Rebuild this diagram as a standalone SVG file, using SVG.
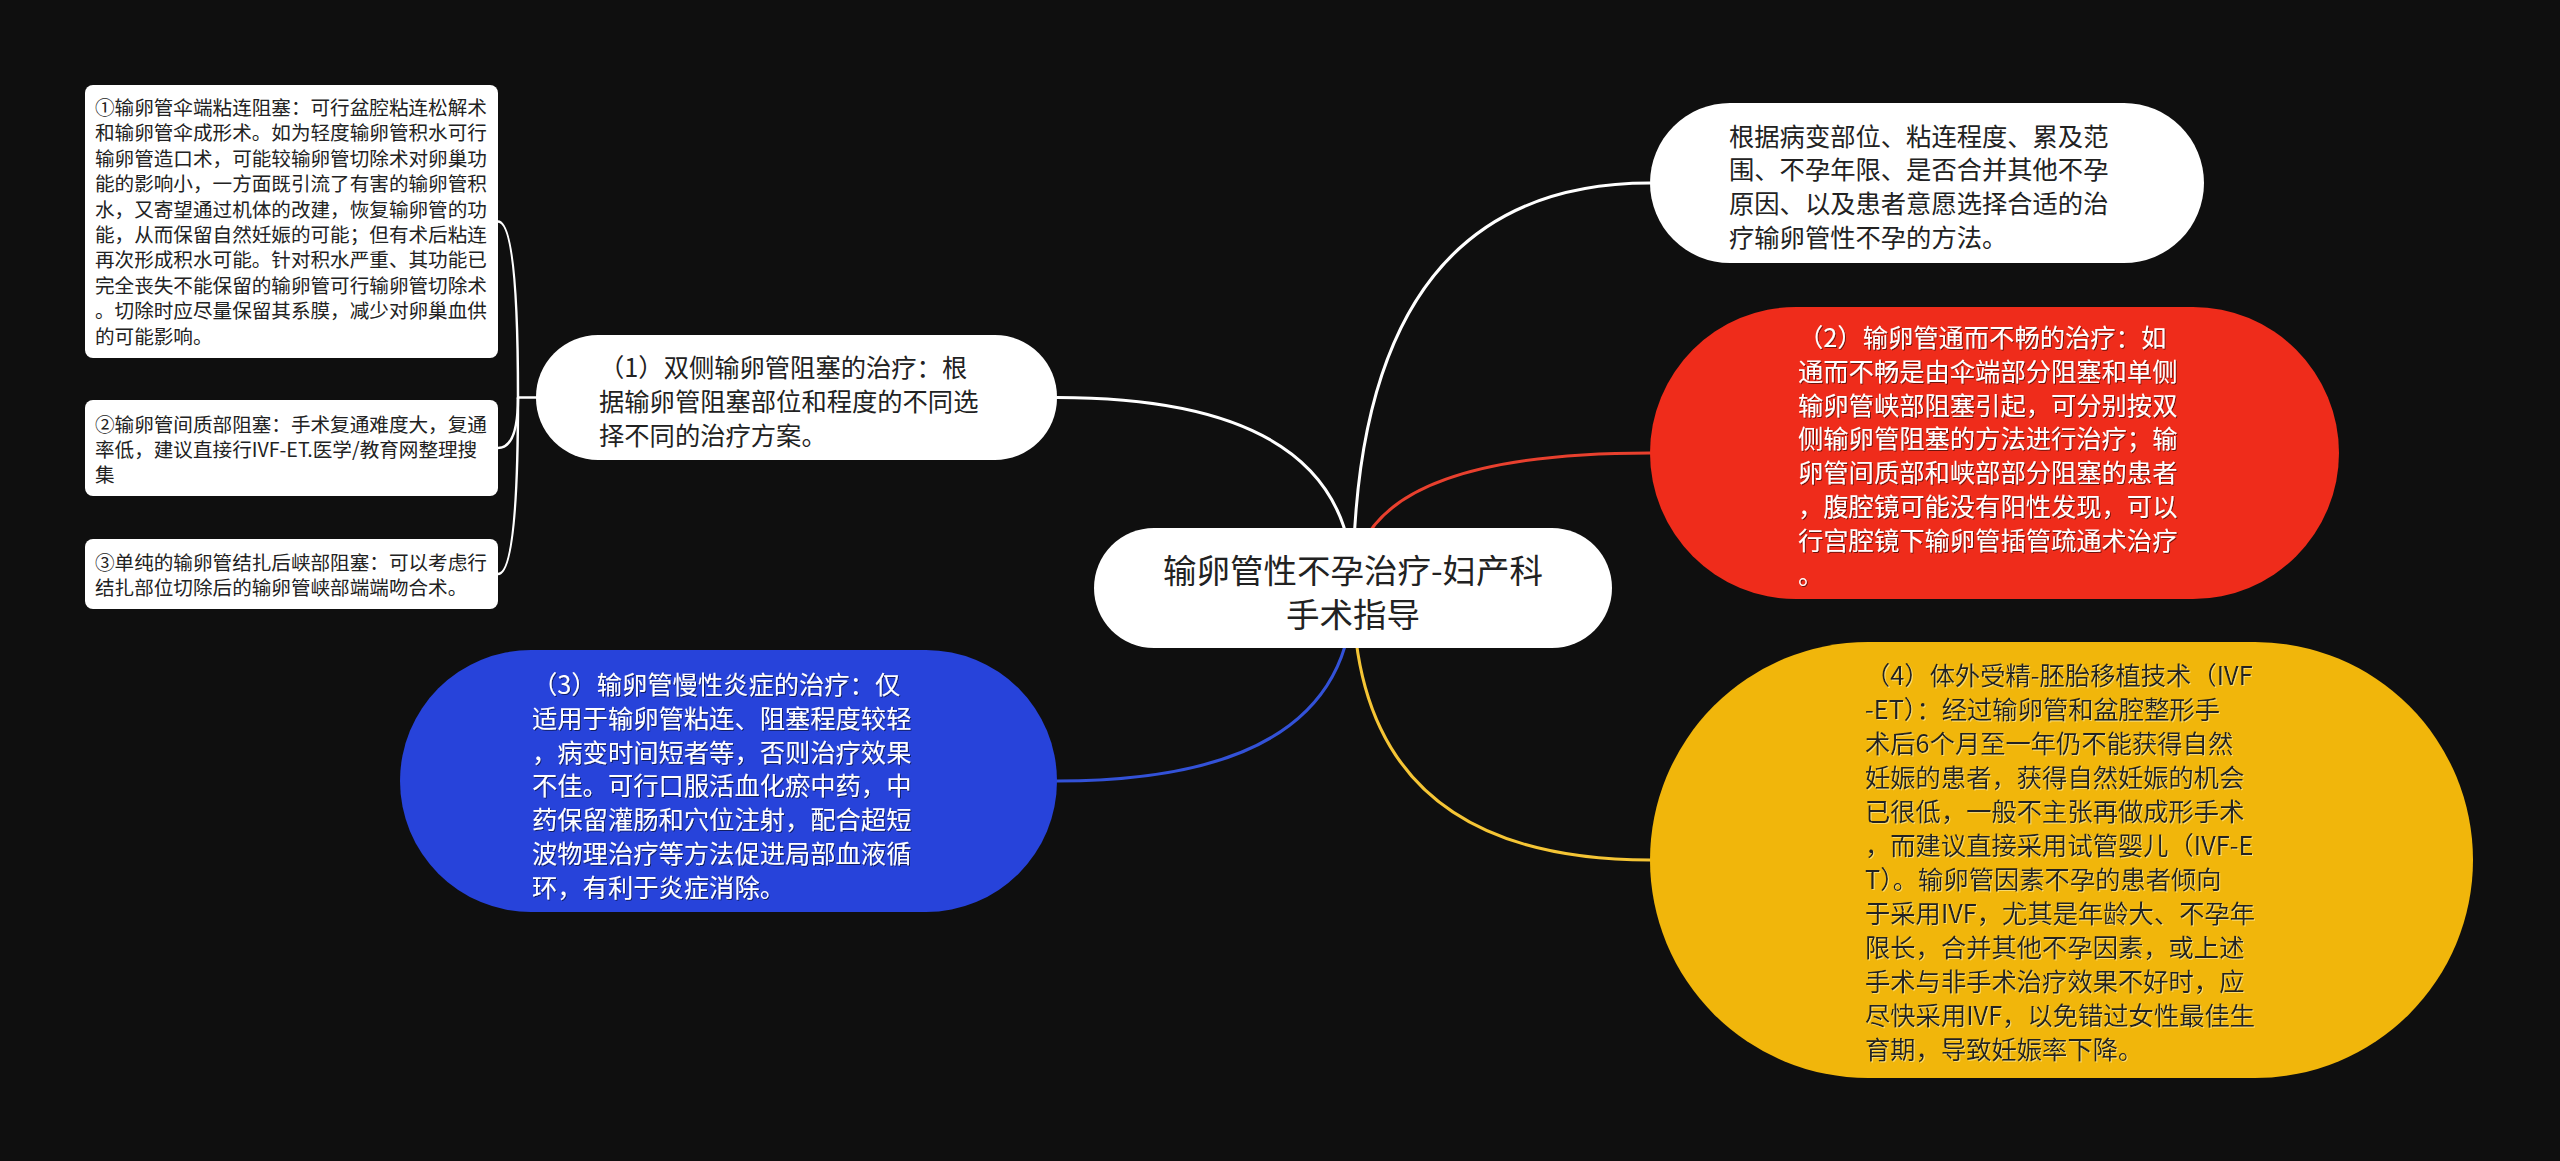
<svg xmlns="http://www.w3.org/2000/svg" width="2560" height="1161" viewBox="0 0 2560 1161">
<defs>
<filter id="sh" x="-5%" y="-5%" width="110%" height="110%"><feDropShadow dx="1" dy="1" stdDeviation="0.6" flood-color="#000" flood-opacity="0.55"/></filter>
<filter id="shl" x="-5%" y="-5%" width="110%" height="110%"><feDropShadow dx="1" dy="1" stdDeviation="0.6" flood-color="#fff3b0" flood-opacity="0.6"/></filter>
</defs>
<style>
text{font-family:"Noto Sans CJK SC","Noto Sans",sans-serif;}
.s{font-size:19.6px;fill:#222;}
.m{font-size:25.3px;}
.dk{fill:#222;}
.wt{fill:#fff;}
.t{font-size:33.5px;fill:#222;}
.c{fill:none;stroke-width:3;stroke-linecap:round;}
.b{fill:none;stroke:#fff;stroke-width:2.5;}
</style>
<rect width="2560" height="1161" fill="#0f0f0f"/>
<g id="connectors">
<path class="c" stroke="#ffffff" d="M1057 397.5 Q1353 397.5 1353 588"/>
<path class="c" stroke="#ffffff" d="M1650 183 Q1353 183 1353 588"/>
<path class="c" stroke="#e8402e" d="M1650 453 Q1353 453 1353 588"/>
<path class="c" stroke="#3352d8" d="M1057 781 Q1353 781 1353 588"/>
<path class="c" stroke="#f5c535" d="M1650 860 Q1353 860 1353 588"/>
<path class="b" d="M537 397.5 H518 Q518 221.5 498 221.5"/>
<path class="b" d="M518 397.5 Q518 448 498 448"/>
<path class="b" d="M518 397.5 Q518 574 498 574"/>
</g>
<g id="root">
<rect x="1094" y="528" width="518" height="120" rx="60" fill="#fff"/>
<text class="t" text-anchor="middle"><tspan x="1353" y="583">输卵管性不孕治疗-妇产科</tspan><tspan x="1353" y="627">手术指导</tspan></text>
</g>
<g id="node1">
<rect x="536" y="335" width="521" height="125" rx="62" fill="#fff"/>
<text class="m dk"><tspan x="599" y="377">（1）双侧输卵管阻塞的治疗：根</tspan><tspan x="599" y="411">据输卵管阻塞部位和程度的不同选</tspan><tspan x="599" y="444.5">择不同的治疗方案。</tspan></text>
</g>
<g id="box1">
<rect x="85" y="85" width="413" height="273" rx="8" fill="#fff"/>
<text class="s"><tspan x="95" y="115">①输卵管伞端粘连阻塞：可行盆腔粘连松解术</tspan><tspan x="95" y="140.4">和输卵管伞成形术。如为轻度输卵管积水可行</tspan><tspan x="95" y="165.8">输卵管造口术，可能较输卵管切除术对卵巢功</tspan><tspan x="95" y="191.2">能的影响小，一方面既引流了有害的输卵管积</tspan><tspan x="95" y="216.6">水，又寄望通过机体的改建，恢复输卵管的功</tspan><tspan x="95" y="242">能，从而保留自然妊娠的可能；但有术后粘连</tspan><tspan x="95" y="267.4">再次形成积水可能。针对积水严重、其功能已</tspan><tspan x="95" y="292.8">完全丧失不能保留的输卵管可行输卵管切除术</tspan><tspan x="95" y="318.2">。切除时应尽量保留其系膜，减少对卵巢血供</tspan><tspan x="95" y="343.6">的可能影响。</tspan></text>
</g>
<g id="box2">
<rect x="85" y="400" width="413" height="96" rx="8" fill="#fff"/>
<text class="s"><tspan x="95" y="431.6">②输卵管间质部阻塞：手术复通难度大，复通</tspan><tspan x="95" y="457">率低，建议直接行IVF-ET.医学/教育网整理搜</tspan><tspan x="95" y="482.4">集</tspan></text>
</g>
<g id="box3">
<rect x="85" y="539" width="413" height="70" rx="8" fill="#fff"/>
<text class="s"><tspan x="95" y="569.8">③单纯的输卵管结扎后峡部阻塞：可以考虑行</tspan><tspan x="95" y="595.2">结扎部位切除后的输卵管峡部端端吻合术。</tspan></text>
</g>
<g id="node-tr">
<rect x="1650" y="103" width="554" height="160" rx="80" fill="#fff"/>
<text class="m dk"><tspan x="1729" y="145.5">根据病变部位、粘连程度、累及范</tspan><tspan x="1729" y="179.3">围、不孕年限、是否合并其他不孕</tspan><tspan x="1729" y="213.1">原因、以及患者意愿选择合适的治</tspan><tspan x="1729" y="246.9">疗输卵管性不孕的方法。</tspan></text>
</g>
<g id="node2">
<rect x="1650" y="307" width="689" height="292" rx="146" fill="#ef2c1b"/>
<text class="m wt" filter="url(#sh)"><tspan x="1798" y="347">（2）输卵管通而不畅的治疗：如</tspan><tspan x="1798" y="380.8">通而不畅是由伞端部分阻塞和单侧</tspan><tspan x="1798" y="414.6">输卵管峡部阻塞引起，可分别按双</tspan><tspan x="1798" y="448.4">侧输卵管阻塞的方法进行治疗；输</tspan><tspan x="1798" y="482.2">卵管间质部和峡部部分阻塞的患者</tspan><tspan x="1798" y="516">，腹腔镜可能没有阳性发现，可以</tspan><tspan x="1798" y="549.8">行宫腔镜下输卵管插管疏通术治疗</tspan><tspan x="1798" y="583.6">。</tspan></text>
</g>
<g id="node3">
<rect x="400" y="650" width="657" height="262" rx="131" fill="#2743da"/>
<text class="m wt" filter="url(#sh)"><tspan x="532" y="694">（3）输卵管慢性炎症的治疗：仅</tspan><tspan x="532" y="727.8">适用于输卵管粘连、阻塞程度较轻</tspan><tspan x="532" y="761.6">，病变时间短者等，否则治疗效果</tspan><tspan x="532" y="795.4">不佳。可行口服活血化瘀中药，中</tspan><tspan x="532" y="829.2">药保留灌肠和穴位注射，配合超短</tspan><tspan x="532" y="863">波物理治疗等方法促进局部血液循</tspan><tspan x="532" y="896.8">环，有利于炎症消除。</tspan></text>
</g>
<g id="node4">
<rect x="1650" y="642" width="823" height="436" rx="218" fill="#f1b60b"/>
<text class="m dk" filter="url(#shl)"><tspan x="1865" y="685">（4）体外受精-胚胎移植技术（IVF</tspan><tspan x="1865" y="719">-ET）：经过输卵管和盆腔整形手</tspan><tspan x="1865" y="753">术后6个月至一年仍不能获得自然</tspan><tspan x="1865" y="787">妊娠的患者，获得自然妊娠的机会</tspan><tspan x="1865" y="821">已很低，一般不主张再做成形手术</tspan><tspan x="1865" y="855">，而建议直接采用试管婴儿（IVF-E</tspan><tspan x="1865" y="889">T）。输卵管因素不孕的患者倾向</tspan><tspan x="1865" y="923">于采用IVF，尤其是年龄大、不孕年</tspan><tspan x="1865" y="957">限长，合并其他不孕因素，或上述</tspan><tspan x="1865" y="991">手术与非手术治疗效果不好时，应</tspan><tspan x="1865" y="1025">尽快采用IVF，以免错过女性最佳生</tspan><tspan x="1865" y="1059">育期，导致妊娠率下降。</tspan></text>
</g>
</svg>
